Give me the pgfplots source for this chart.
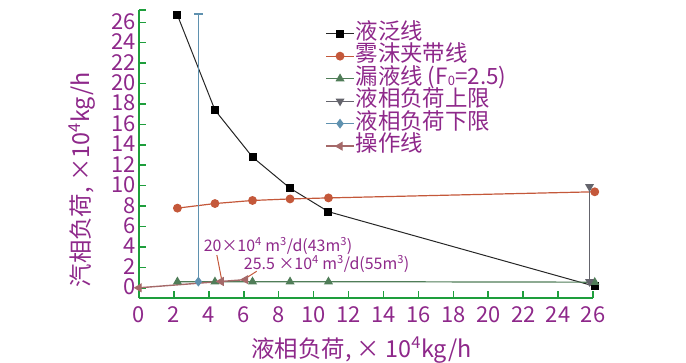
\documentclass[border=0pt]{standalone}
\usepackage{pgfplots}
\pgfplotsset{compat=1.18}
\usepackage{fontspec}
\setmainfont{Noto Sans CJK SC}
\definecolor{txt}{RGB}{142,40,138}
\definecolor{axgreen}{RGB}{30,158,60}
\definecolor{corange}{RGB}{196,88,58}
\definecolor{cgreen}{RGB}{80,125,88}
\definecolor{cgrey}{RGB}{100,100,108}
\definecolor{cblue}{RGB}{95,145,175}
\definecolor{cpink}{RGB}{165,105,105}
\begin{document}
\begin{tikzpicture}[x=1bp,y=1bp]
\useasboundingbox (0,0) rectangle (686,362);
\begin{axis}[
  at={(139bp,64bp)}, anchor=south west, scale only axis,
  width=454bp, height=288bp,
  xmin=0, xmax=26, ymin=-1, ymax=27.2,
  axis x line*=bottom, axis y line*=left,
  axis line style={axgreen, line width=1.8bp, -},
  xtick={0,2,...,26}, ytick={0,2,...,26},
  extra y ticks={27.2}, extra y tick labels={},
  tick align=inside, major tick length=7bp,
  tick style={axgreen, line width=1.5bp},
  ticklabel style={font=\fontsize{22}{22}\selectfont, text=txt},
  yticklabel style={text height=14bp, text depth=0bp, inner sep=1bp, xshift=-2bp},
  xticklabel style={yshift=-5bp},
  /pgf/number format/assume math mode=true,
  xlabel={液相负荷, × 10\textsuperscript{4}kg/h},
  ylabel={汽相负荷, ×10\textsuperscript{4}kg/h},
  label style={font=\fontsize{23.5}{23.5}\selectfont, text=txt},
  xlabel style={at={(axis description cs:0.49,-0.18)}, anchor=center},
  ylabel style={at={(axis description cs:-0.126,0.41)}, anchor=center, rotate=0},
  legend style={at={(axis description cs:0.41,0.955)}, anchor=north west,
    draw=none, fill=none, font=\fontsize{22.5}{22.5}\selectfont, text=txt,
    row sep=1.5bp, inner sep=0pt,
    nodes={inner sep=1bp, text height=15bp, text depth=4bp}},
  legend cell align=left,
  legend image code/.code={\draw[#1, mark indices={2}] plot coordinates {(0bp,0bp) (14bp,0bp) (28bp,0bp)};},
  clip=false,
]
\addplot[black!85, line width=1bp, mark=square*, mark size=3.5bp, mark options={fill=black, draw=black}]
  coordinates {(2.2,26.7)(4.35,17.4)(6.5,12.8)(8.65,9.75)(10.85,7.45)(26.1,0.15)};
\addlegendentry{液泛线}
\addplot[corange, line width=1.2bp, mark=*, mark size=3.8bp, mark options={fill=corange}]
  coordinates {(2.2,7.8)(4.35,8.25)(6.5,8.55)(8.65,8.7)(10.85,8.8)(26.1,9.4)};
\addlegendentry{雾沫夹带线}
\addplot[cgreen, line width=1.2bp, mark=triangle*, mark size=4bp, mark options={fill=cgreen}]
  coordinates {(2.2,0.6)(4.35,0.6)(6.5,0.6)(8.65,0.6)(10.85,0.6)(26.1,0.55)};
\addlegendentry{漏液线 (F\raisebox{-1.5bp}{\fontsize{13}{13}\selectfont 0}=2.5)}
\addplot[cgrey, line width=1.2bp, mark=triangle*, mark size=4bp, mark options={fill=cgrey, rotate=180}]
  coordinates {(25.8,0.6)(25.8,9.9)};
\addlegendentry{液相负荷上限}
\addplot[cblue, line width=1.2bp, mark=diamond*, mark size=4bp, mark options={fill=cblue}, mark indices={1}]
  coordinates {(3.4,0.6)(3.4,26.8)};
\addlegendentry{液相负荷下限}
\addplot[cpink, line width=1.4bp, mark=triangle*, mark size=4bp, mark options={fill=cpink, rotate=90}]
  coordinates {(0,0)(4.7,0.62)(6.1,0.8)};
\addlegendentry{操作线}
\draw[cblue, line width=1.2bp] (axis cs:3.15,26.8) -- (axis cs:3.65,26.8);
\node[anchor=west, text=txt, font=\fontsize{16}{16}\selectfont, inner sep=0pt] at (axis cs:3.7,4.1) {20×10\textsuperscript{4} m\textsuperscript{3}/d(43m\textsuperscript{3})};
\node[anchor=west, text=txt, font=\fontsize{16}{16}\selectfont, inner sep=0pt] at (axis cs:6.0,2.3) {25.5 ×10\textsuperscript{4} m\textsuperscript{3}/d(55m\textsuperscript{3})};
\draw[corange, line width=1bp] (axis cs:4.46,3.2) -- (axis cs:4.74,0.74);
\draw[corange, line width=1bp] (axis cs:6.74,1.62) -- (axis cs:6.11,0.93);
\end{axis}
\end{tikzpicture}
\end{document}
